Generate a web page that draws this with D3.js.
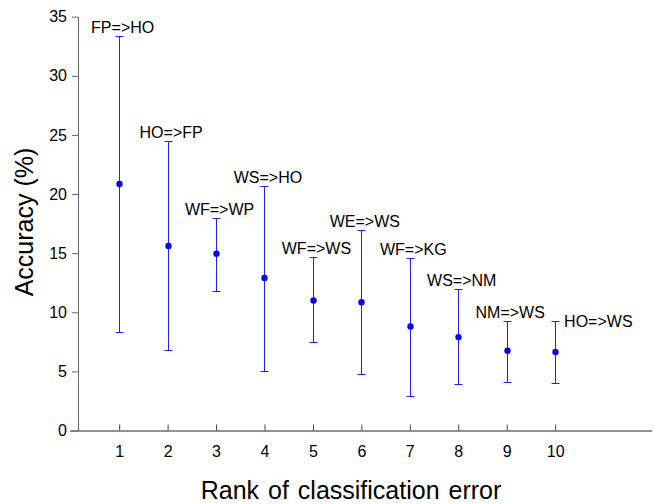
<!DOCTYPE html>
<html>
<head>
<meta charset="utf-8">
<script src="https://cdn.jsdelivr.net/npm/d3@7"></script>
<style>
  body { margin: 0; background: #fff; }
  svg { display: block; }
  text { font-family: "Liberation Sans", Arial, sans-serif; fill: #000; }
</style>
</head>
<body>
<svg width="654" height="504"></svg>
<script>
// chart data
const ranks = [1, 2, 3, 4, 5, 6, 7, 8, 9, 10];
const labels = ["FP=>HO", "HO=>FP", "WF=>WP", "WS=>HO", "WF=>WS",
                "WE=>WS", "WF=>KG", "WS=>NM", "NM=>WS", "HO=>WS"];
const means = [20.85, 15.6, 14.95, 12.9, 11.0, 10.85, 8.8, 7.9, 6.75, 6.65];
const upper = [33.4, 24.45, 18.0, 20.7, 14.65, 17.0, 14.55, 12.0, 9.3, 9.3];
const lower = [8.3, 6.8, 11.8, 5.05, 7.45, 4.8, 2.95, 3.9, 4.1, 4.0];
const yTicks = [0, 5, 10, 15, 20, 25, 30, 35];

const data = ranks.map((r, i) => ({
  rank: r,
  label: labels[i],
  mean: means[i],
  hi: upper[i],
  lo: lower[i],
}));

const svg = d3.select("svg");

const x = d3.scaleLinear().domain([0.15, 12]).range([78, 652]);
const y = d3.scaleLinear().domain([0, 35]).range([430.5, 16.7]);

// snap to pixel centres so 1px lines stay crisp
const px = (v) => Math.round(v) + 0.5;

// x axis: ticks point up into the plot
const xAxis = svg.append("g")
  .attr("transform", "translate(0," + y(0) + ")")
  .call(d3.axisBottom(x).tickValues(ranks).tickSizeInner(-6).tickSizeOuter(0).tickPadding(12));
xAxis.select(".domain").attr("stroke", "#222").attr("d", "M70,0.5H652");
xAxis.selectAll(".tick line").attr("stroke", "#444");
xAxis.selectAll(".tick text").attr("font-size", 16).attr("dy", "0.9em");

// y axis
const yAxis = svg.append("g")
  .attr("transform", "translate(" + x(0.15) + ",0)")
  .call(d3.axisLeft(y).tickValues(yTicks).tickSizeInner(6).tickSizeOuter(0).tickPadding(5));
yAxis.select(".domain").attr("stroke", "#666");
yAxis.selectAll(".tick line").attr("stroke", "#666");
yAxis.selectAll(".tick text").attr("font-size", 16);

// axis titles
svg.append("text")
  .attr("x", 351)
  .attr("y", 499)
  .attr("text-anchor", "middle")
  .attr("font-size", 25)
  .attr("word-spacing", 2)
  .text("Rank of classification error");

svg.append("text")
  .attr("transform", "translate(33,222) rotate(-90)")
  .attr("text-anchor", "middle")
  .attr("font-size", 25)
  .text("Accuracy (%)");

// error bars
const blue = "#1f1fff";
const capW = 4;
const bars = svg.append("g");

bars.selectAll(".whisker")
  .data(data)
  .join("line")
  .attr("x1", (d) => px(x(d.rank)))
  .attr("x2", (d) => px(x(d.rank)))
  .attr("y1", (d) => px(y(d.hi)))
  .attr("y2", (d) => px(y(d.lo)))
  .attr("stroke", blue)
  .attr("stroke-width", 1);

bars.selectAll(".capHi")
  .data(data)
  .join("line")
  .attr("x1", (d) => px(x(d.rank)) - capW)
  .attr("x2", (d) => px(x(d.rank)) + capW)
  .attr("y1", (d) => px(y(d.hi)))
  .attr("y2", (d) => px(y(d.hi)))
  .attr("stroke", blue)
  .attr("stroke-width", 1);

bars.selectAll(".capLo")
  .data(data)
  .join("line")
  .attr("x1", (d) => px(x(d.rank)) - capW)
  .attr("x2", (d) => px(x(d.rank)) + capW)
  .attr("y1", (d) => px(y(d.lo)))
  .attr("y2", (d) => px(y(d.lo)))
  .attr("stroke", blue)
  .attr("stroke-width", 1);

bars.selectAll("circle")
  .data(data)
  .join("circle")
  .attr("cx", (d) => px(x(d.rank)))
  .attr("cy", (d) => y(d.mean))
  .attr("r", 3.2)
  .attr("fill", "#0000ff");

// labels above each bar, the last one sits to the right
const last = ranks.length - 1;
svg.append("g")
  .selectAll("text")
  .data(data)
  .join("text")
  .attr("font-size", 16)
  .attr("text-anchor", (d, i) => (i === last ? "start" : "middle"))
  .attr("x", (d, i) => (i === last ? x(d.rank) + 9 : x(d.rank) + 3.5))
  .attr("y", (d, i) => (i === last ? y(d.hi) + 6 : y(d.hi) - 3))
  .text((d) => d.label);
</script>
</body>
</html>
